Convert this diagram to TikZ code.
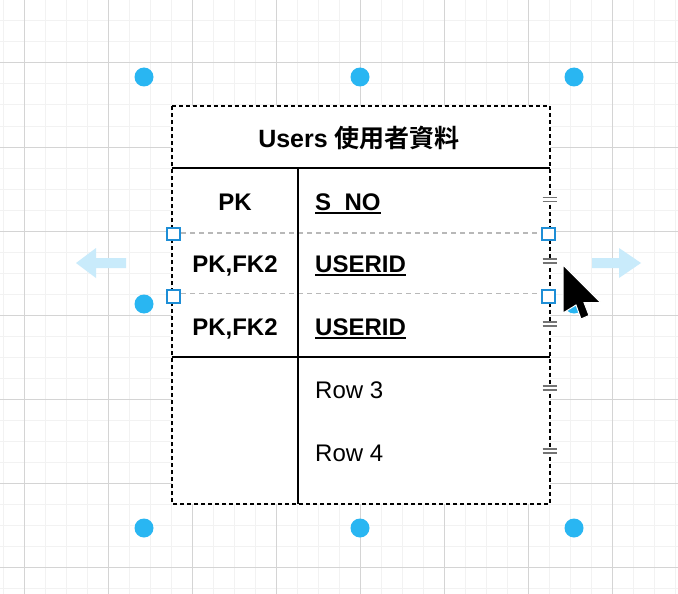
\documentclass[tikz,border=0pt]{standalone}
\usepackage{fontspec}
\setmainfont{Liberation Sans}
\newfontfamily\cjk{Noto Sans CJK TC}[BoldFont={Noto Sans CJK TC Bold}]
\definecolor{gridminor}{HTML}{F2F2F2}
\definecolor{gridmajor}{HTML}{D4D4D4}
\definecolor{dotblue}{HTML}{29B6F2}
\definecolor{handleblue}{HTML}{1E8ED6}
\definecolor{ghostblue}{HTML}{C9EBFB}
\definecolor{rowgray}{HTML}{B8B8B8}
\tikzset{
  cell/.style={inner sep=0pt, font=\fontsize{24}{28}\selectfont},
  keycell/.style={cell, font=\fontsize{24}{28}\selectfont\bfseries, anchor=base},
  titlecell/.style={cell, font=\fontsize{25}{28}\selectfont\bfseries, anchor=base},
  fieldcell/.style={cell, font=\fontsize{24}{28}\selectfont\bfseries, anchor=base west},
  plaincell/.style={cell, anchor=base west},
  dot/.style={circle, fill=dotblue, minimum size=19pt, inner sep=0pt},
  handle/.style={draw=handleblue, fill=white, line width=2pt, minimum size=12.5pt, inner sep=0pt},
  tableline/.style={line width=2pt},
  outline/.style={line width=2pt, dash pattern=on 4pt off 3pt},
  rowsep/.style={rowgray, line width=1.8pt, dash pattern=on 5pt off 4pt},
  uline/.style={line width=2pt},
  bar/.style={gray!90!black, line width=1.7pt},
}
\begin{document}
\begin{tikzpicture}[x=1pt,y=-1pt]
\useasboundingbox (0,0) rectangle (678,594);
\fill[white] (0,0) rectangle (678,594);

% grid
\foreach \x in {3,24,...,675} \draw[gridminor, line width=1pt] (\x,0) -- (\x,594);
\foreach \y in {0,21,...,594} \draw[gridminor, line width=1pt] (0,\y) -- (678,\y);
\foreach \x in {24,108,...,612} \draw[gridmajor, line width=1pt] (\x,0) -- (\x,594);
\foreach \y in {63,147,...,567} \draw[gridmajor, line width=1pt] (0,\y) -- (678,\y);

% table frame
\coordinate (NW) at (172,106);
\coordinate (NE) at (549.5,106);
\coordinate (SW) at (172,504);
\coordinate (SE) at (549.5,504);
\coordinate (HW) at (172,168);
\coordinate (HE) at (549.5,168);
\coordinate (DT) at (298,168);
\coordinate (DB) at (298,504);
\coordinate (KW) at (172,357);
\coordinate (KE) at (549.5,357);
\coordinate (R1W) at (172,233);
\coordinate (R1E) at (549.5,233);
\coordinate (R2W) at (172,293.5);
\coordinate (R2E) at (549.5,293.5);

\fill[white] (NW) rectangle (SE);
\draw[rowsep] (R1W) -- (R1E);
\draw[rowsep] (R2W) -- (R2E);
\draw[tableline] (HW) -- (HE);
\draw[tableline] (KW) -- (KE);
\draw[tableline] (DT) -- (DB);
\draw[outline] (NW) -- (NE) -- (SE) -- (SW) -- cycle;

% texts
\node(title)[titlecell] at (359,147) {Users {\cjk 使用者資料}};
\node(k1)[keycell] at (235,210) {PK};
\node(k2)[keycell] at (235,272) {PK,FK2};
\node(k3)[keycell] at (235,335) {PK,FK2};
\node(sno)[fieldcell] at (315,210) {S\_NO};
\node(uid1)[fieldcell] at (315,272) {USERID};
\node(uid2)[fieldcell] at (315,335) {USERID};
\node(row3)[plaincell] at (315,398) {Row 3};
\node(row4)[plaincell] at (315,461) {Row 4};

\draw[uline] ([yshift=-3pt]sno.base west) -- ([yshift=-3pt]sno.base east);
\draw[uline] ([yshift=-3pt]uid1.base west) -- ([yshift=-3pt]uid1.base east);
\draw[uline] ([yshift=-3pt]uid2.base west) -- ([yshift=-3pt]uid2.base east);

% row move bars
\foreach \y in {199.5,261,324,388,451} {
  \fill[white] (542,\y-3.5) rectangle (557,\y+3.5);
  \draw[bar] (542.5,\y-2) -- (556.5,\y-2);
  \draw[bar] (542.5,\y+2) -- (556.5,\y+2);
}

% row handles
\node(h1)[handle] at (173.5,234) {};
\node(h2)[handle] at (548.5,234) {};
\node(h3)[handle] at (173.5,296.5) {};
\node(h4)[handle] at (548.5,296.5) {};

% resize dots
\node(d1)[dot] at (144,77) {};
\node(d2)[dot] at (360,77) {};
\node(d3)[dot] at (574,77) {};
\node(d4)[dot] at (144,304) {};
\node(d5)[dot] at (574,304) {};
\node(d6)[dot] at (144,528) {};
\node(d7)[dot] at (360,528) {};
\node(d8)[dot] at (574,528) {};

% ghost arrows
\fill[ghostblue] (76,263) -- (96,248) -- (96,258) -- (126,258) -- (126,268) -- (96,268) -- (96,278) -- cycle;
\fill[ghostblue] (641,263) -- (619,248) -- (619,258) -- (592,258) -- (592,268) -- (619,268) -- (619,278) -- cycle;

% mouse pointer
\filldraw[fill=black, draw=white, line width=1pt, line join=miter]
  (563,265) -- (563,313) -- (576,305) -- (581,319) -- (589,315.5) -- (584,302.5) -- (600.5,302.5) -- cycle;
\end{tikzpicture}
\end{document}
